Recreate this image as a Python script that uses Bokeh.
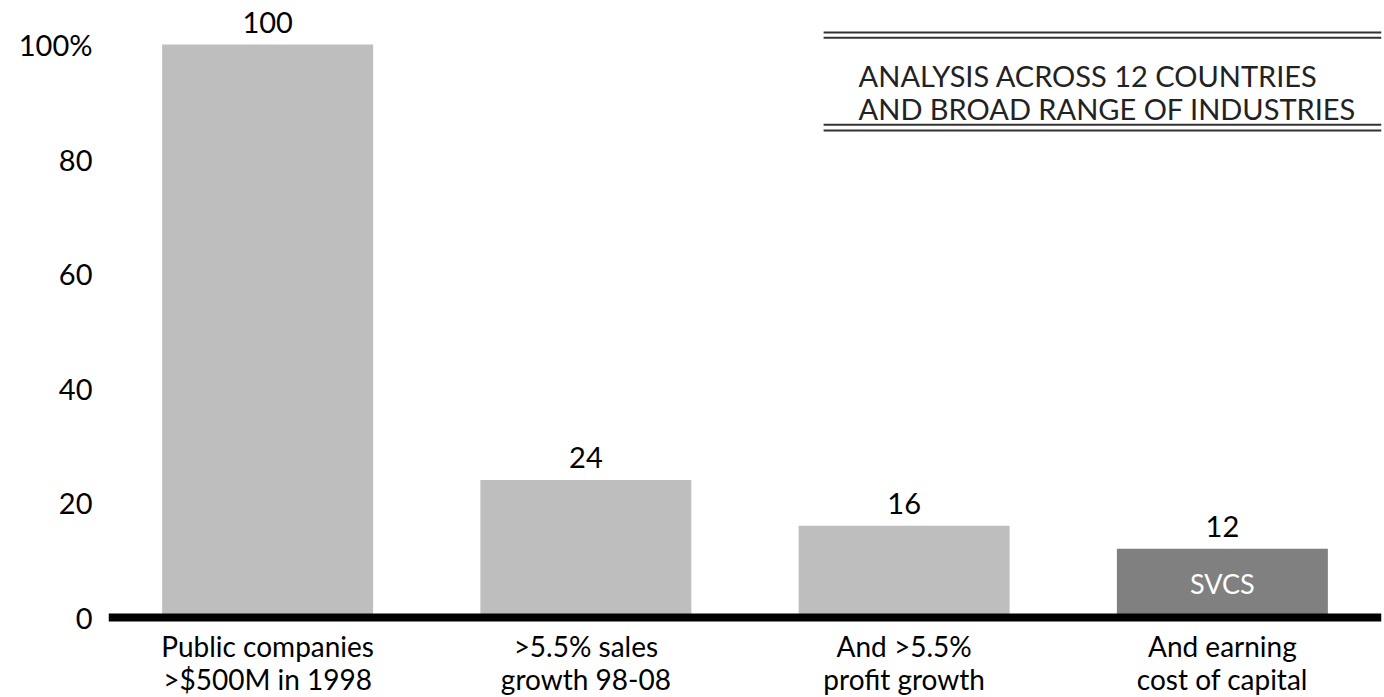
from bokeh.plotting import figure
from bokeh.models import FactorRange, Range1d, ColumnDataSource, Label
from bokeh.core.properties import value
from bokeh.embed import file_html
from bokeh.resources import INLINE

# ---- data ----
categories = ["Public companies\n>$500M in 1998", ">5.5% sales\ngrowth 98-08",
              "And >5.5%\nprofit growth", "And earning\ncost of capital"]
values = [100, 24, 16, 12]
value_labels = ["100", "24", "16", "12"]
inner_labels = ["", "", "", "SVCS"]
bar_colors = ["#bebebe", "#bebebe", "#bebebe", "#808080"]
y_ticks = [0, 20, 40, 60, 80, 100]
y_tick_labels = ["0", "20", "40", "60", "80", "100%"]
box_text = ["ANALYSIS ACROSS 12 COUNTRIES", "AND BROAD RANGE OF INDUSTRIES"]

FONT = "Lato"

line1 = [c.split("\n")[0] for c in categories]
line2 = [c.split("\n")[1] for c in categories]

src = ColumnDataSource(dict(cat=categories, val=values, lab=value_labels,
                            inner=inner_labels, mid=[v / 2 for v in values],
                            zero=[0] * len(values), l1=line1, l2=line2,
                            color=bar_colors))

p = figure(width=1384, height=697, x_range=FactorRange(factors=categories),
           y_range=Range1d(-13.96, 107.68), output_backend="svg", toolbar_location=None,
           min_border_left=108, min_border_right=3, min_border_top=0, min_border_bottom=0)
p.outline_line_color = None
p.xgrid.grid_line_color = None
p.ygrid.grid_line_color = None
p.background_fill_color = "white"
p.xaxis.visible = False

p.vbar(x="cat", top="val", width=0.663, fill_color="color", line_color=None, source=src)

# baseline
p.hspan(y=[0], line_color="#000000", line_width=8)

# value labels
p.text(x="cat", y="val", text="lab", source=src, text_align="center",
       text_baseline="bottom", y_offset=-12, text_font=value(FONT),
       text_font_size="29px", text_color="#000000")
# inner label
p.text(x="cat", y="mid", text="inner", source=src, text_align="center",
       text_baseline="middle", text_font=value(FONT), text_font_size="27px",
       text_color="#ffffff")
# category labels (two lines)
for col, off in (("l1", 28), ("l2", 61)):
    p.text(x="cat", y="zero", text=col, source=src, text_align="center",
           text_baseline="middle", y_offset=off, text_font=value(FONT),
           text_font_size="28px", text_color="#000000")

# y axis
p.yaxis.ticker = y_ticks
p.yaxis.major_label_overrides = {t: s for t, s in zip(y_ticks, y_tick_labels)}
p.yaxis.axis_line_color = None
p.yaxis.major_tick_line_color = None
p.yaxis.major_tick_out = 0
p.yaxis.major_tick_in = 0
p.yaxis.minor_tick_line_color = None
p.yaxis.major_label_text_font = FONT
p.yaxis.major_label_text_font_size = "29px"
p.yaxis.major_label_text_color = "#000000"
p.yaxis.major_label_standoff = 16

# framed note (top right)
bx0, bx1 = 2.247, 4.0
p.segment(x0=[bx0] * 4, x1=[bx1] * 4, y0=[102.1, 101.2, 86.0, 85.0],
          y1=[102.1, 101.2, 86.0, 85.0], line_color="#333333", line_width=2)
for txt, yy in zip(box_text, [94.6, 88.8]):
    p.add_layout(Label(x=2.357, y=yy, text=txt, text_baseline="middle",
                       text_font=FONT, text_font_size="29px", text_color="#222222"))

open("out.html", "w").write(file_html(p, INLINE))
